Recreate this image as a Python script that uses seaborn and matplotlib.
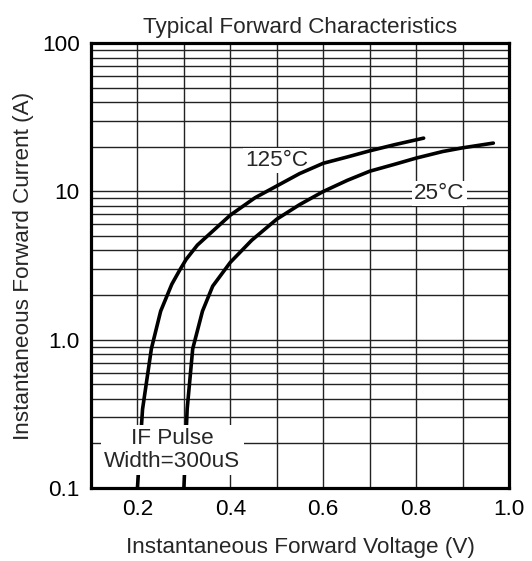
import matplotlib
matplotlib.use("Agg")
import matplotlib.pyplot as plt
import numpy as np
import pandas as pd
import seaborn as sns

# values (V, A)
v_125 = [0.200, 0.211, 0.230, 0.250, 0.274, 0.291, 0.305, 0.329, 0.400, 0.453,
         0.500, 0.549, 0.600, 0.652, 0.700, 0.754, 0.816]
i_125 = [0.10, 0.34, 0.87, 1.56, 2.37, 2.95, 3.49, 4.35, 6.93, 9.07,
         10.9, 13.2, 15.5, 17.1, 18.8, 20.7, 22.9]
v_25 = [0.300, 0.307, 0.319, 0.340, 0.362, 0.400, 0.446, 0.500, 0.549, 0.600,
        0.652, 0.700, 0.755, 0.800, 0.857, 0.900, 0.966]
i_25 = [0.10, 0.34, 0.87, 1.56, 2.30, 3.33, 4.69, 6.51, 8.15, 10.0,
        11.9, 13.7, 15.3, 16.8, 18.6, 19.7, 21.2]

x_ticks = [0.2, 0.4, 0.6, 0.8, 1.0]
x_tick_labels = ["0.2", "0.4", "0.6", "0.8", "1.0"]
y_ticks = [0.1, 1, 10, 100]
y_tick_labels = ["0.1", "1.0", "10", "100"]

df = pd.concat([
    pd.DataFrame({"V": v_125, "I": i_125, "T": "125°C"}),
    pd.DataFrame({"V": v_25, "I": i_25, "T": "25°C"}),
])

sns.set_style("white")
plt.rcParams["font.family"] = ["Liberation Sans", "DejaVu Sans"]
fs = 16.2

fig = plt.figure(figsize=(5.32, 5.61), dpi=100)
ax = fig.add_axes([0.171, 0.130, 0.786, 0.793])

ax.set_yscale("log")
ax.set_xlim(0.1, 1.0)
ax.set_ylim(0.1, 100)

# grid: every 0.1 V, and every log step
for xv in np.arange(0.2, 1.0, 0.1):
    ax.axvline(xv, color="#222222", lw=1.0, zorder=1)
for dec in [0.1, 1, 10]:
    for k in range(1, 10):
        yv = dec * k
        if 0.1 < yv < 100:
            ax.axhline(yv, color="#222222", lw=1.0, zorder=1)

sns.lineplot(data=df, x="V", y="I", units="T", estimator=None, sort=False,
             color="black", lw=2.6, ax=ax, zorder=3, legend=False)

ax.set_xticks(x_ticks)
ax.set_xticklabels(x_tick_labels, fontsize=fs)
ax.set_yticks(y_ticks)
ax.set_yticklabels(y_tick_labels, fontsize=fs)
ax.yaxis.set_minor_locator(matplotlib.ticker.NullLocator())
ax.tick_params(length=0, pad=8, colors="black")

for s in ax.spines.values():
    s.set_linewidth(2.3)
    s.set_color("black")
    s.set_zorder(5)

ax.set_xlabel("Instantaneous Forward Voltage (V)", fontsize=fs, labelpad=12)
ax.set_ylabel("Instantaneous Forward Current (A)", fontsize=fs, labelpad=6)
ax.set_title("Typical Forward Characteristics", fontsize=fs, pad=7)

box = dict(facecolor="white", edgecolor="none", pad=1.5)
ax.text(0.444, 0.737, "125°C", transform=ax.transAxes, ha="center", va="center",
        fontsize=fs, bbox=box, zorder=2)
ax.text(0.833, 0.663, "25°C", transform=ax.transAxes, ha="center", va="center",
        fontsize=fs, bbox=box, zorder=2)
ax.text(0.194, 0.085, "IF Pulse\nWidth=300uS", transform=ax.transAxes, ha="center",
        va="center", fontsize=fs, linespacing=1.1,
        bbox=dict(facecolor="white", edgecolor="none", pad=2.5), zorder=4)

fig.savefig("out.png", dpi=100)
